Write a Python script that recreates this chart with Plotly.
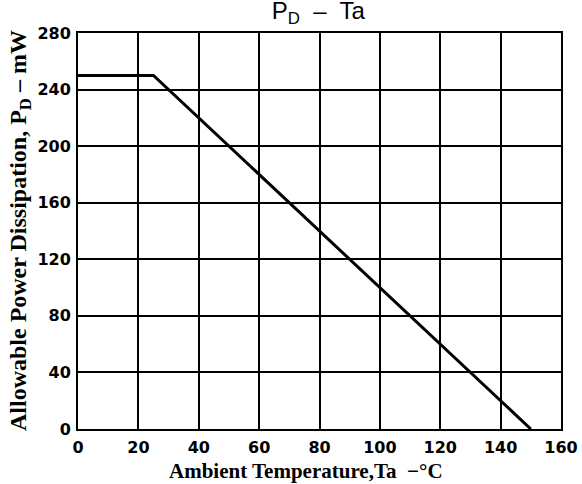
import plotly.graph_objects as go

ta = [0, 25, 150]
pd_mw = [250, 250, 0]
x_ticks = [0, 20, 40, 60, 80, 100, 120, 140, 160]
y_ticks = [0, 40, 80, 120, 160, 200, 240, 280]

fig = go.Figure()
fig.add_trace(go.Scatter(x=ta, y=pd_mw, mode="lines",
                         line=dict(color="black", width=3), hoverinfo="skip"))

tickfont = dict(family="DejaVu Sans, Arial, sans-serif", size=16, color="black")
serif = "Liberation Serif, Times New Roman, serif"

fig.update_layout(
    width=582, height=484,
    margin=dict(l=78, r=21, t=33, b=55),
    paper_bgcolor="white", plot_bgcolor="white",
    showlegend=False,
    title=dict(text="P<sub>D</sub>  –  Ta", x=0.547, xanchor="center", y=0.995, yanchor="top",
               pad=dict(t=0, b=0, l=0, r=0),
               font=dict(family="Liberation Sans, Arial, sans-serif", size=24, color="black")),
    xaxis=dict(range=[0, 160], tickvals=x_ticks, ticktext=[f"<b>{v}</b>" for v in x_ticks],
               showgrid=True, gridcolor="black", gridwidth=1.5,
               showline=True, linecolor="black", linewidth=2, mirror=True,
               zeroline=False, ticks="outside", ticklen=3, tickcolor="white",
               tickfont=tickfont, automargin=False),
    yaxis=dict(range=[0, 280], tickvals=y_ticks, ticktext=[f"<b>{v}</b>" for v in y_ticks],
               showgrid=True, gridcolor="black", gridwidth=1.5,
               showline=True, linecolor="black", linewidth=2, mirror=True,
               zeroline=False, ticks="outside", ticklen=2, tickcolor="white",
               tickfont=tickfont, automargin=False),
    annotations=[
        dict(text="<b>Ambient Temperature,Ta  −°C</b>", xref="paper", yref="paper",
             x=0.472, y=-0.106, xanchor="center", yanchor="middle", showarrow=False,
             font=dict(family=serif, size=21, color="black")),
        dict(text="<b>Allowable Power Dissipation, P<sub>D</sub> – mW</b>", xref="paper", yref="paper",
             x=-0.12, y=0.5, xanchor="center", yanchor="middle", textangle=-90, showarrow=False,
             font=dict(family=serif, size=24, color="black")),
    ],
)

fig.write_html("out.html", config={"displayModeBar": False},
               post_script="document.body.style.margin='0';document.body.style.overflow='hidden';")
